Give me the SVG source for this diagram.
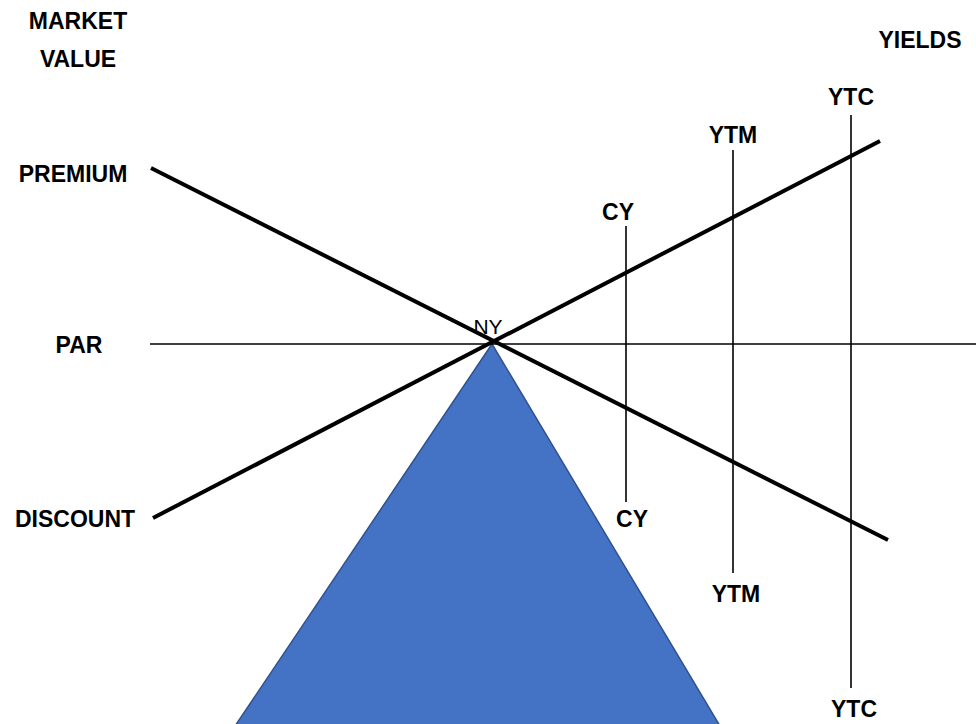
<svg xmlns="http://www.w3.org/2000/svg" width="976" height="724" viewBox="0 0 976 724">
<style>
.lbl{font-family:"Liberation Sans",Arial,sans-serif;font-weight:bold;font-size:23px;fill:#000;text-anchor:middle}
.thin{stroke:#000;stroke-width:1.6;fill:none}
.thick{stroke:#000;stroke-width:4;fill:none}
</style>
<rect width="976" height="724" fill="#fff"/>
<g id="triangle"><polygon points="492,344 235,726 720,726" fill="#4472C4" stroke="#2F528F" stroke-width="1.5"/></g>
<g id="connectors">
<line class="thin" x1="150" y1="344" x2="976" y2="344" stroke-width="2"/>
<line class="thick" x1="151" y1="168" x2="888" y2="540"/>
<line class="thick" x1="153" y1="518" x2="880" y2="141"/>
<line class="thin" x1="626" y1="226" x2="626" y2="502"/>
<line class="thin" x1="733" y1="150" x2="733" y2="573"/>
<line class="thin" x1="851" y1="115" x2="851" y2="688"/>
</g>
<g id="market-value"><text class="lbl" x="78" y="29">MARKET</text><text class="lbl" x="78" y="67">VALUE</text></g>
<g id="yields"><text class="lbl" x="920" y="48">YIELDS</text></g>
<g id="premium"><text class="lbl" x="73" y="182">PREMIUM</text></g>
<g id="par"><text class="lbl" x="79" y="353">PAR</text></g>
<g id="discount"><text class="lbl" x="75" y="527">DISCOUNT</text></g>
<g id="ny"><text x="488" y="334" font-family="Liberation Sans,Arial,sans-serif" font-size="21" text-anchor="middle">NY</text></g>
<g id="cy-top"><text class="lbl" x="618" y="220">CY</text></g>
<g id="cy-bottom"><text class="lbl" x="632" y="527">CY</text></g>
<g id="ytm-top"><text class="lbl" x="733" y="143">YTM</text></g>
<g id="ytm-bottom"><text class="lbl" x="736" y="602">YTM</text></g>
<g id="ytc-top"><text class="lbl" x="851" y="105">YTC</text></g>
<g id="ytc-bottom"><text class="lbl" x="854" y="717">YTC</text></g>
</svg>
